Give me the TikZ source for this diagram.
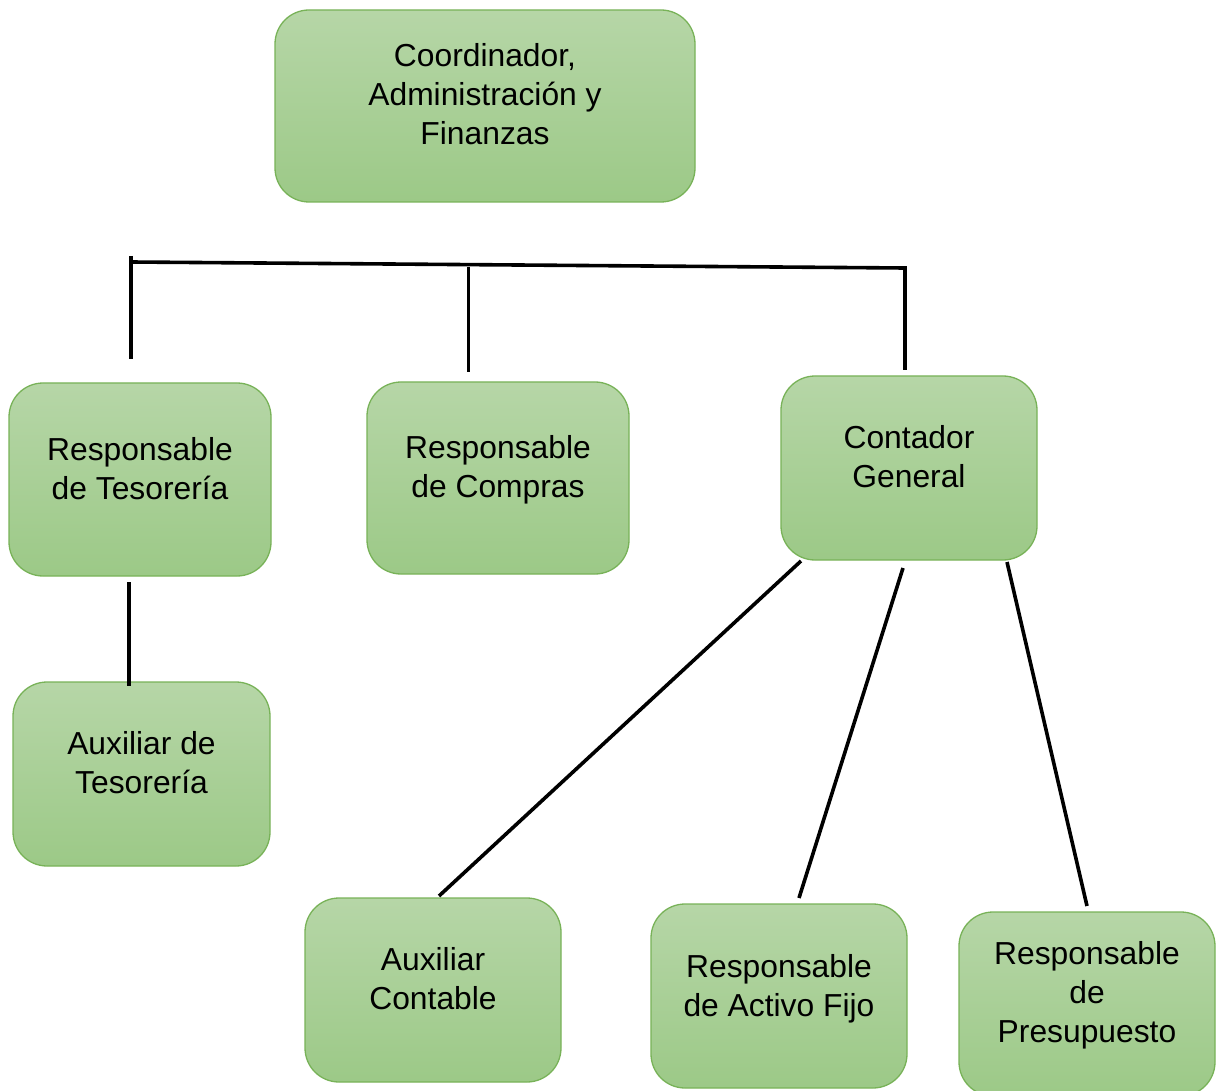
\documentclass[tikz,border=0pt]{standalone}
\usepackage{fontspec}
\setmainfont{Liberation Sans}
\definecolor{boxtop}{RGB}{182,214,167}
\definecolor{boxbot}{RGB}{156,201,135}
\definecolor{boxline}{RGB}{120,178,88}
\begin{document}
\begin{tikzpicture}[x=1pt,y=-1pt,
  orgbox/.style={draw=boxline, line width=1.3pt, rounded corners=34pt,
    top color=boxtop, bottom color=boxbot, inner sep=0pt, outer sep=0pt},
  orgtext/.style={align=center, inner sep=0pt, font=\fontsize{31.8}{39}\selectfont},
  conn/.style={draw=black, line width=3.6pt}]
\useasboundingbox (0,0) rectangle (1219,1091);
% boxes
\node (b1) [orgbox, minimum width=420pt, minimum height=192pt] at (485,106) {};
\node (t1) [orgtext] at (485,94) {Coordinador,\\Administración y\\Finanzas};
\node (b2) [orgbox, minimum width=262pt, minimum height=193pt] at (140,479.5) {};
\node (t2) [orgtext] at (140,469) {Responsable\\de Tesorería};
\node (b3) [orgbox, minimum width=262pt, minimum height=192pt] at (498,478) {};
\node (t3) [orgtext] at (498,470) {Responsable\\de Compras};
\node (b4) [orgbox, minimum width=256pt, minimum height=184pt] at (909,468) {};
\node (t4) [orgtext] at (909,456.5) {Contador\\General};
\node (b5) [orgbox, minimum width=257pt, minimum height=184pt] at (141.5,774) {};
\node (t5) [orgtext] at (141.5,763) {Auxiliar de\\Tesorería};
\node (b6) [orgbox, minimum width=256pt, minimum height=184pt] at (433,990) {};
\node (t6) [orgtext] at (433,979) {Auxiliar\\Contable};
\node (b7) [orgbox, minimum width=256pt, minimum height=184pt] at (779,996) {};
\node (t7) [orgtext] at (779,989) {Responsable\\de Activo Fijo};
\node (b8) [orgbox, minimum width=256pt, minimum height=184pt] at (1087,1004) {};
\node (t8) [orgtext] at (1087,995.5) {Responsable\\de\\Presupuesto};
% connector end points
\coordinate (hL) at (131,262);
\coordinate (hR) at (905,268);
\coordinate (vLtop) at (131,256);
\coordinate (vLbot) at (131,359);
\coordinate (vMtop) at (468.5,267);
\coordinate (vMbot) at (468.5,372);
\coordinate (vRbot) at (905,370);
\coordinate (tesA) at (129,582);
\coordinate (tesB) at (129,686);
\coordinate (c1a) at (801,561);
\coordinate (c1b) at (439,896);
\coordinate (c2a) at (903,568);
\coordinate (c2b) at (799,898);
\coordinate (c3a) at (1007,562);
\coordinate (c3b) at (1087,906);
% connectors
\draw[conn] (hL) -- (hR) -- (vRbot);
\draw[conn] (vLtop) -- (vLbot);
\draw[conn] (vMtop) -- (vMbot);
\draw[conn] (tesA) -- (tesB);
\draw[conn] (c1a) -- (c1b);
\draw[conn] (c2a) -- (c2b);
\draw[conn] (c3a) -- (c3b);
\end{tikzpicture}
\end{document}
